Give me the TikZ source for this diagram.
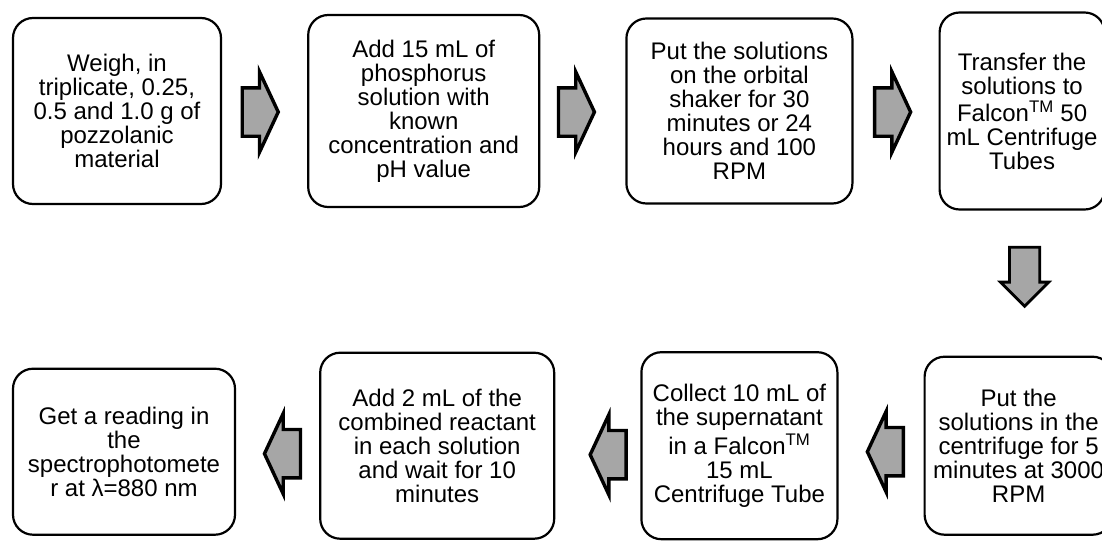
\documentclass[tikz,border=0pt]{standalone}
\usepackage{fontspec}
\setmainfont{Liberation Sans}
\definecolor{arrowgray}{RGB}{166,166,166}
\usetikzlibrary{positioning, shapes.arrows, calc}
\tikzset{
node distance=85pt, % gap between two neighbouring boxes
stage/.style={draw=black, line width=2.2pt, rounded corners=20pt, fill=white, align=center, inner sep=0pt, font=\fontsize{24}{24}\selectfont}, % the process boxes
flow/.style={single arrow, draw=black, line width=3.4pt, fill=arrowgray, inner xsep=0pt, inner ysep=22.5pt, minimum height=36pt, single arrow head extend=16pt, single arrow tip angle=130}, % block arrows between the boxes
}
\tikzset{
  back flow/.style={flow, rotate=180},
  down flow/.style={flow, line width=2.8pt, inner ysep=13.75pt, minimum height=59pt, single arrow head extend=9pt, single arrow tip angle=90, rotate=-90}
}
\begin{document}
\begin{tikzpicture}
      \useasboundingbox (0,0) rectangle (1102pt,-541pt);
      \node[stage, minimum width=208pt, minimum height=186pt] (w1) at (117pt,-111pt) {Weigh, in\\triplicate, 0.25,\\0.5 and 1.0 g of\\pozzolanic\\material};
      \node[stage, right=of w1, minimum width=231pt, minimum height=192pt] (w2) {Add 15 mL of\\phosphorus\\solution with\\known\\concentration and\\pH value};
      \node[stage, right=of w2, minimum width=226pt, minimum height=185pt] (w3) {Put the solutions\\on the orbital\\shaker for 30\\minutes or 24\\hours and 100\\RPM};
      \node[stage, right=of w3, minimum width=165pt, minimum height=197pt] (w4) {Transfer the\\solutions to\\[3pt]Falcon\textsuperscript{TM} 50\\mL Centrifuge\\Tubes};
      \node[stage, below=145pt of w4, xshift=-3.5pt, minimum width=188pt, minimum height=178pt] (w5) {Put the\\solutions in the\\centrifuge for 5\\minutes at 3000\\RPM};
      \node[stage, left=of w5, minimum width=196pt, minimum height=187pt] (w6) {Collect 10 mL of\\the supernatant\\[3pt]in a Falcon\textsuperscript{TM}\\15 mL\\Centrifuge Tube};
      \node[stage, left=of w6, minimum width=234pt, minimum height=186pt] (w7) {Add 2 mL of the\\combined reactant\\in each solution\\and wait for 10\\minutes};
      \node[stage, left=83pt of w7, yshift=-6pt, minimum width=222pt, minimum height=166pt] (w8) {Get a reading in\\the\\spectrophotomete\\r at λ=880 nm};

      \node[flow] (a1) at ($(w1.east)!0.5!(w2.west)+(-10pt,-1pt)$) {};
      \node[flow] (a2) at ($(w2.east)!0.5!(w3.west)+(-12pt,-1pt)$) {};
      \node[flow] (a3) at ($(w3.east)!0.5!(w4.west)+(-9pt,-1pt)$) {};
      \node[down flow] (d1) at ($(w4.south)!0.5!(w5.north)+(4.25pt,13.9pt)$) {};
      \node[back flow] (b1) at ($(w6.east)!0.5!(w5.west)+(10pt,-6pt)$) {};
      \node[back flow] (b2) at ($(w7.east)!0.5!(w6.west)+(16pt,-9pt)$) {};
      \node[back flow] (b3) at ($(w8.east)!0.5!(w7.west)+(10.5pt,-5pt)$) {};
    \end{tikzpicture}
\end{document}
